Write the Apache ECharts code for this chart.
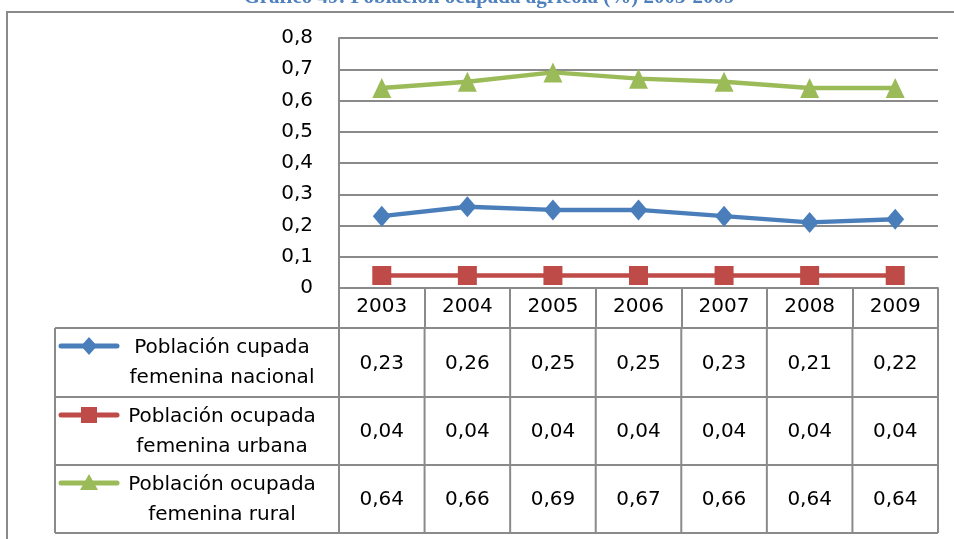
<!DOCTYPE html>
<html>
<head>
<meta charset="utf-8">
<script src="https://cdn.jsdelivr.net/npm/echarts@6/dist/echarts.min.js"></script>
<style>
  html, body { margin: 0; padding: 0; background: #fff; }
  #main { width: 954px; height: 539px; }
</style>
</head>
<body>
<div id="main"></div>
<script>
// datos del gráfico
const years = ['2003', '2004', '2005', '2006', '2007', '2008', '2009']
const nacional = [0.23, 0.26, 0.25, 0.25, 0.23, 0.21, 0.22]
const urbana = [0.04, 0.04, 0.04, 0.04, 0.04, 0.04, 0.04]
const rural = [0.64, 0.66, 0.69, 0.67, 0.66, 0.64, 0.64]
const seriesNames = [
  ['Población cupada', 'femenina nacional'],
  ['Población ocupada', 'femenina urbana'],
  ['Población ocupada', 'femenina rural'],
]
const titleText = 'Gráfico 49: Población ocupada agrícola (%) 2003-2009'

const colors = ['#4A7EBB', '#BE4B48', '#9BBB59']
const symbols = ['diamond', 'rect', 'triangle']
const symbolSizes = [[18, 21], 19, [19, 20]]
const gridColor = '#8a8a8a'
const font = "'DejaVu Sans', sans-serif"
const comma = (v, d) => v.toFixed(d).replace('.', ',')

const chart = echarts.init(document.getElementById('main'))

const allData = [nacional, urbana, rural]

chart.setOption({
  animation: false,
  grid: { left: 339, top: 38, width: 599, height: 250 },
  xAxis: {
    type: 'category',
    data: years,
    boundaryGap: true,
    axisLine: { lineStyle: { color: gridColor, width: 2 } },
    axisTick: { show: true, length: 40, lineStyle: { color: gridColor, width: 2 } },
    axisLabel: { color: '#000', fontSize: 20, fontFamily: font, margin: 9 },
  },
  yAxis: {
    type: 'value',
    min: 0,
    max: 0.8,
    interval: 0.1,
    axisLine: { show: true, lineStyle: { color: gridColor, width: 2 } },
    axisTick: { show: false },
    splitLine: { lineStyle: { color: gridColor, width: 2 } },
    axisLabel: {
      color: '#000',
      fontSize: 20,
      fontFamily: font,
      margin: 26,
      formatter: (v) => (v === 0 ? '0' : comma(v, 1)),
    },
  },
  series: allData.map((d, i) => ({
    name: seriesNames[i].join(' '),
    type: 'line',
    data: d,
    symbol: symbols[i],
    symbolSize: symbolSizes[i],
    showAllSymbol: true,
    lineStyle: { color: colors[i], width: 4.5 },
    itemStyle: { color: colors[i] },
    z: 3 - i + 2,
  })),
})

// tabla de datos debajo del gráfico
const xs = years.map((_, i) => chart.convertToPixel({ xAxisIndex: 0 }, i))
const half = (xs[1] - xs[0]) / 2
const tableLeft = 55
const tableRight = xs[xs.length - 1] + half
const rowTops = [328, 397, 465, 533]
const lineStyle = { stroke: gridColor, lineWidth: 2 }
const g = []

// título recortado
g.push({
  type: 'text',
  x: 489, y: 8,
  style: {
    text: titleText, fill: '#4F81BD', font: "bold 21px 'Liberation Serif', serif",
    textAlign: 'center', textVerticalAlign: 'bottom',
  },
})
// borde exterior (solo izquierda y arriba quedan dentro de la imagen)
g.push({
  type: 'polyline',
  shape: { points: [[7, 560], [7, 12], [960, 12]] },
  style: { fill: 'none', stroke: gridColor, lineWidth: 2 },
  z: -1,
})

rowTops.forEach((y) => {
  g.push({ type: 'line', shape: { x1: tableLeft, y1: y, x2: tableRight, y2: y }, style: lineStyle })
})
const vx = [tableLeft].concat(xs.map((x) => x - half), [tableRight])
vx.forEach((x) => {
  g.push({ type: 'line', shape: { x1: x, y1: rowTops[0], x2: x, y2: rowTops[3] }, style: lineStyle })
})

allData.forEach((d, r) => {
  const top = rowTops[r]
  const mid = (top + rowTops[r + 1]) / 2
  d.forEach((v, i) => {
    g.push({
      type: 'text', x: xs[i], y: mid + 1,
      style: { text: comma(v, 2), fill: '#000', font: '20px ' + font, textAlign: 'center', textVerticalAlign: 'middle' },
    })
  })
  // clave de leyenda
  const ky = top + 18
  g.push({ type: 'line', shape: { x1: 61, y1: ky, x2: 117, y2: ky }, style: { stroke: colors[r], lineWidth: 5, lineCap: 'round' } })
  const cx = 89
  let shape
  if (r === 0) {
    shape = { type: 'polygon', shape: { points: [[cx, ky - 9], [cx + 8, ky], [cx, ky + 9], [cx - 8, ky]] } }
  } else if (r === 1) {
    shape = { type: 'rect', shape: { x: cx - 8, y: ky - 8, width: 16, height: 16 } }
  } else {
    shape = { type: 'polygon', shape: { points: [[cx, ky - 9], [cx + 9, ky + 7], [cx - 9, ky + 7]] } }
  }
  shape.style = { fill: colors[r] }
  g.push(shape)
  seriesNames[r].forEach((t, k) => {
    g.push({
      type: 'text', x: 222, y: top + 20 + k * 30,
      style: { text: t, fill: '#000', font: '20px ' + font, textAlign: 'center', textVerticalAlign: 'middle' },
    })
  })
})

chart.setOption({ graphic: g })

window.addEventListener('resize', () => chart.resize())
</script>
</body>
</html>
